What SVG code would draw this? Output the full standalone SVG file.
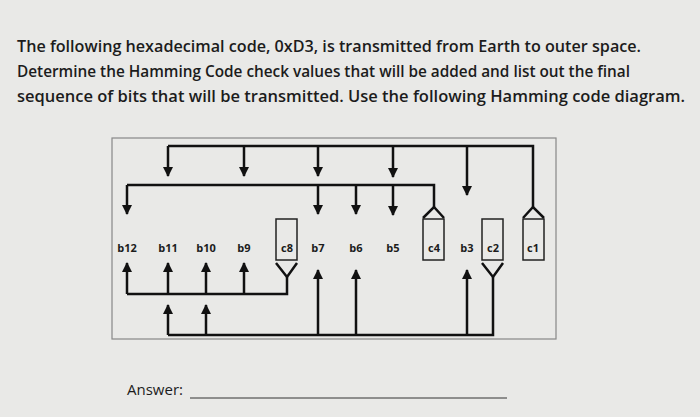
<svg xmlns="http://www.w3.org/2000/svg" width="700" height="417" viewBox="0 0 700 417">
<defs>
<marker id="ah" viewBox="0 0 10 10" refX="9" refY="5" markerWidth="10" markerHeight="10" markerUnits="userSpaceOnUse" orient="auto"><path d="M0,0 L10,5 L0,10 z" fill="#111"/></marker>
</defs>
<style>
.q{font-family:"Open Sans","Liberation Sans",sans-serif;font-size:16px;font-weight:600;fill:#1c1c1c}
.lb{font-family:"Open Sans","Liberation Sans",sans-serif;font-size:11px;font-weight:700;fill:#1c1c1c;text-anchor:middle}
.w{fill:none;stroke:#111;stroke-width:2.5}
.a{fill:none;stroke:#111;stroke-width:2.5;marker-end:url(#ah)}
.bx{fill:none;stroke:#222;stroke-width:1.5}
</style>
<rect width="700" height="417" fill="#e9e9e7"/>
<g id="question">
<text class="q" x="17" y="52" textLength="624" lengthAdjust="spacingAndGlyphs">The following hexadecimal code, 0xD3, is transmitted from Earth to outer space.</text>
<text class="q" x="17" y="77" textLength="613" lengthAdjust="spacingAndGlyphs">Determine the Hamming Code check values that will be added and list out the final</text>
<text class="q" x="17" y="102" textLength="668" lengthAdjust="spacingAndGlyphs">sequence of bits that will be transmitted.  Use the following Hamming code diagram.</text>
</g>
<rect x="112" y="138" width="444" height="201" fill="none" stroke="#888" stroke-width="1.2"/>
<g id="labels">
<text class="lb" x="127" y="252">b12</text>
<text class="lb" x="168" y="252">b11</text>
<text class="lb" x="206" y="252">b10</text>
<text class="lb" x="244" y="252">b9</text>
<text class="lb" x="318" y="252">b7</text>
<text class="lb" x="356" y="252">b6</text>
<text class="lb" x="393" y="252">b5</text>
<text class="lb" x="467" y="252">b3</text>
</g>
<g id="c8"><rect class="bx" x="276" y="219" width="21" height="41"/><text class="lb" x="287" y="252">c8</text></g>
<g id="c4"><rect class="bx" x="423" y="219" width="21" height="41"/><text class="lb" x="434" y="252">c4</text></g>
<g id="c2"><rect class="bx" x="482" y="219" width="21" height="41"/><text class="lb" x="493" y="252">c2</text></g>
<g id="c1"><rect class="bx" x="523" y="219" width="21" height="41"/><text class="lb" x="533" y="252">c1</text></g>
<g id="connectors">
<polyline class="w" points="168,146 533,146 533,207"/>
<polyline class="w" points="523,218 533,207 544,218"/>
<line class="a" x1="168" y1="146" x2="168" y2="176"/>
<line class="a" x1="244" y1="146" x2="244" y2="176"/>
<line class="a" x1="318" y1="146" x2="318" y2="176"/>
<line class="a" x1="393" y1="146" x2="393" y2="177"/>
<line class="a" x1="467" y1="146" x2="467" y2="195"/>
<polyline class="w" points="127,185 434,185 434,207"/>
<polyline class="w" points="423,218 434,207 444,218"/>
<line class="a" x1="127" y1="185" x2="127" y2="214"/>
<line class="a" x1="318" y1="185" x2="318" y2="214"/>
<line class="a" x1="356" y1="185" x2="356" y2="214"/>
<line class="a" x1="393" y1="185" x2="393" y2="215"/>
<polyline class="w" points="276,263 287,277 297,263"/>
<polyline class="w" points="287,277 287,294 127,294"/>
<line class="a" x1="127" y1="294" x2="127" y2="263"/>
<line class="a" x1="168" y1="294" x2="168" y2="263"/>
<line class="a" x1="206" y1="294" x2="206" y2="263"/>
<line class="a" x1="244" y1="294" x2="244" y2="263"/>
<polyline class="w" points="482,263 493,277 503,263"/>
<polyline class="w" points="493,277 493,335 168,335"/>
<line class="a" x1="168" y1="335" x2="168" y2="305"/>
<line class="a" x1="206" y1="335" x2="206" y2="305"/>
<line class="a" x1="318" y1="335" x2="318" y2="270"/>
<line class="a" x1="356" y1="335" x2="356" y2="270"/>
<line class="a" x1="467" y1="335" x2="467" y2="270"/>
</g>
<g id="answer">
<text class="q" x="127" y="395" style="font-weight:400;font-size:15px">Answer:</text>
<line x1="190" y1="398" x2="507" y2="398" stroke="#333" stroke-width="1"/>
</g>
</svg>
